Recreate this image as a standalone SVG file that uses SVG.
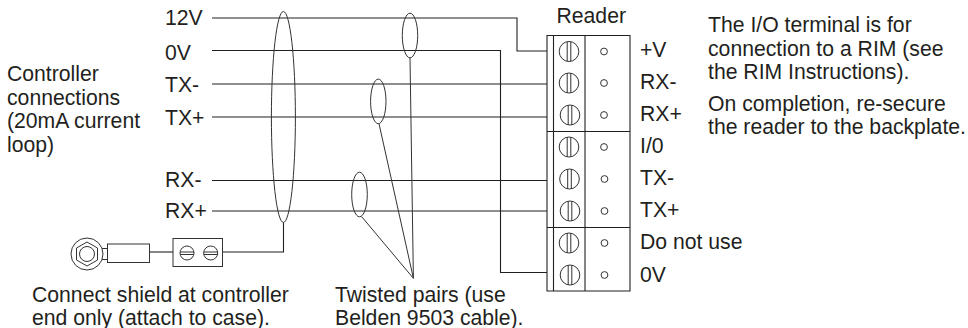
<svg xmlns="http://www.w3.org/2000/svg" width="968" height="328" viewBox="0 0 968 328">
<defs>
<g id="screw"><ellipse cx="0" cy="0" rx="9.800" ry="10" class="thin"/><path d="M-1.800 -9.800V9.800M1.800 -9.800V9.800" class="thin"/></g>
<circle id="hole" r="3.400" class="thin"/>
</defs>
<style>
text{font-family:"Liberation Sans",Arial,sans-serif;font-size:21.200px;fill:#231f20}
.w{fill:none;stroke:#231f20;stroke-width:1.100}
.thin{fill:none;stroke:#333;stroke-width:1}
</style>
<rect width="968" height="328" fill="#fff"/>
<g id="connectors">
<path class="w" d="M212 18H517V51H547"/>
<path class="w" d="M212 50.500H500.500V272.500H547"/>
<path class="w" d="M212 84H547M212 117H547M212 180.500H547M212 211H547"/>
<ellipse class="thin" cx="283.400" cy="117" rx="12" ry="105.500"/>
<ellipse class="thin" cx="410" cy="35.500" rx="7.700" ry="22.300"/>
<ellipse class="thin" cx="378.300" cy="101.400" rx="7.700" ry="22.300"/>
<ellipse class="thin" cx="359.500" cy="194.500" rx="7.800" ry="22.300"/>
<path class="thin" d="M410 58L413.400 278.300L379 123.700M413.400 278.300L361.700 216.700"/>
<path class="w" d="M283.500 222.500V252H223"/>
<path class="w" d="M150 252H173"/>
</g>
<g id="shield">
<circle class="thin" cx="87" cy="254" r="16"/>
<path class="thin" d="M87 242L97.500 248V260L87 266L76.500 260V248Z"/>
<circle class="thin" cx="87" cy="254" r="7.500"/>
<path class="thin" d="M102 248.500H107M102 259.500H107"/>
<rect class="thin" x="107.500" y="244" width="42" height="18.500"/>
<rect class="thin" x="173" y="238.500" width="49.500" height="28"/>
<g class="thin"><circle cx="187" cy="253" r="7"/><path d="M180 252H194M180 254.500H194"/><circle cx="210.700" cy="253" r="7"/><path d="M203.700 252H217.700M203.700 254.500H217.700"/></g>
</g>
<g id="terminal">
<path class="w" d="M547 35.500H630V291H547ZM553.500 35.500V291M585 35.500V291M547 131.500H630M547 227.500H630"/>
<use href="#screw" x="569" y="51.500"/><use href="#hole" x="604" y="51.500"/>
<use href="#screw" x="569" y="83"/><use href="#hole" x="604" y="83"/>
<use href="#screw" x="570" y="115"/><use href="#hole" x="604" y="115"/>
<use href="#screw" x="569" y="147"/><use href="#hole" x="604" y="147"/>
<use href="#screw" x="569.500" y="179"/><use href="#hole" x="604.500" y="179"/>
<use href="#screw" x="570" y="211"/><use href="#hole" x="604.500" y="211"/>
<use href="#screw" x="569" y="243"/><use href="#hole" x="604.500" y="243"/>
<use href="#screw" x="570" y="275"/><use href="#hole" x="604.500" y="275"/>
</g>
<g id="labels">
<text x="165" y="25">12V</text><text x="165" y="60">0V</text><text x="165" y="92">TX-</text><text x="165" y="125">TX+</text><text x="165" y="187">RX-</text><text x="165" y="218">RX+</text>
<text x="7" y="81">Controller</text><text x="7" y="104.500">connections</text><text x="7" y="128">(20mA current</text><text x="7" y="152">loop)</text>
<text x="556.500" y="23">Reader</text>
<text x="640" y="57">+V</text><text x="640" y="89">RX-</text><text x="640" y="121">RX+</text><text x="640" y="153">I/0</text><text x="640" y="185">TX-</text><text x="640" y="217">TX+</text><text x="640" y="249">Do not use</text><text x="640" y="282">0V</text>
<text x="708" y="32">The I/O terminal is for</text><text x="708" y="56">connection to a RIM (see</text><text x="708" y="79">the RIM Instructions).</text><text x="708" y="111">On completion, re-secure</text><text x="708" y="134">the reader to the backplate.</text>
<text x="32" y="301.500">Connect shield at controller</text><text x="32" y="325">end only (attach to case).</text>
<text x="335" y="301.500">Twisted pairs (use</text><text x="335" y="325">Belden 9503 cable).</text>
</g>
</svg>
